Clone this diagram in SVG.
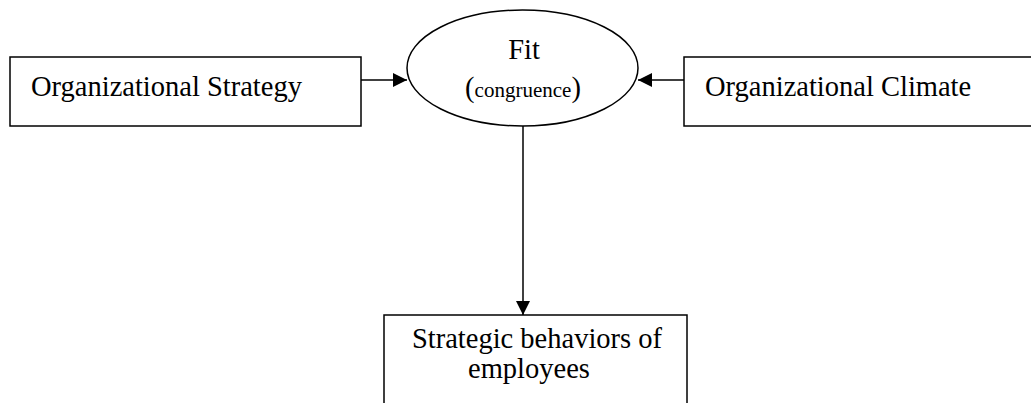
<svg xmlns="http://www.w3.org/2000/svg" width="1031" height="403" viewBox="0 0 1031 403">
<style>
.box{fill:#fff;stroke:#000;stroke-width:1.5}
.t{font-family:"Liberation Serif","Times New Roman",serif;font-size:28.5px;fill:#000}
.s{font-size:21px}
.c{stroke:#000;stroke-width:1.5;fill:none}
</style>
<defs>
<marker id="ah" viewBox="0 0 10 10" refX="10" refY="5" markerWidth="14" markerHeight="14" markerUnits="userSpaceOnUse" orient="auto">
<path d="M0,0 L10,5 L0,10 z" fill="#000"/>
</marker>
</defs>
<g id="strategy">
<rect class="box" x="10" y="57" width="351" height="69"/>
<text class="t" x="31" y="96">Organizational Strategy</text>
</g>
<g id="fit">
<ellipse class="box" cx="522.5" cy="68" rx="115.5" ry="58"/>
<text class="t" x="524" y="59" text-anchor="middle">Fit</text>
<text class="t" x="523" y="97" text-anchor="middle">(<tspan class="s">congruence</tspan>)</text>
</g>
<g id="climate">
<rect class="box" x="684" y="57" width="360" height="69"/>
<text class="t" x="705" y="96">Organizational Climate</text>
</g>
<g id="behaviors">
<rect class="box" x="384" y="315" width="303" height="100"/>
<text class="t" x="537" y="348" text-anchor="middle">Strategic behaviors of</text>
<text class="t" x="529" y="378" text-anchor="middle">employees</text>
</g>
<g id="connectors">
<line class="c" x1="361" y1="80" x2="407" y2="80" marker-end="url(#ah)"/>
<line class="c" x1="684" y1="80" x2="638" y2="80" marker-end="url(#ah)"/>
<line class="c" x1="523" y1="126" x2="523" y2="315" marker-end="url(#ah)"/>
</g>
</svg>
